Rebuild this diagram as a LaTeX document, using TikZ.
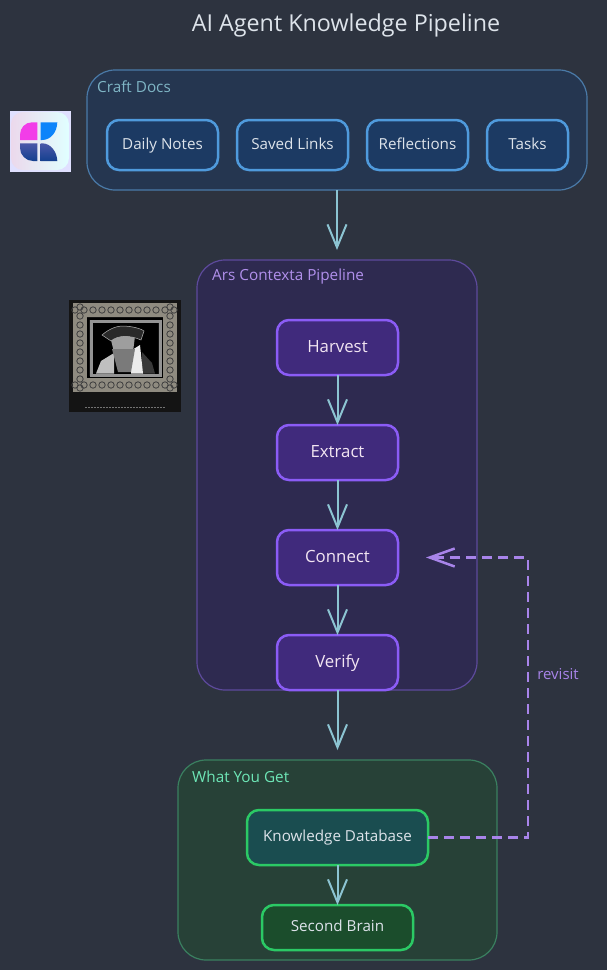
\documentclass[tikz,border=0pt]{standalone}
\usepackage{fontspec}
\setmainfont{Open Sans}
\usetikzlibrary{arrows.meta}

\definecolor{fond}{HTML}{2D333F}
\definecolor{titre}{HTML}{DDE3EA}
\definecolor{lien}{HTML}{8CC4D2}
\definecolor{retour}{HTML}{A884EA}
\definecolor{docbord}{HTML}{4F9ADC}
\definecolor{docfond}{HTML}{1C3A63}
\definecolor{etapebord}{HTML}{8B5CF6}
\definecolor{etapefond}{HTML}{402A7C}
\definecolor{vert}{HTML}{2BC965}
\definecolor{cadre}{HTML}{8F8B80}
\definecolor{rose}{HTML}{F23DE8}
\definecolor{bleu}{HTML}{0D84FA}
\definecolor{marine}{HTML}{14408F}
\definecolor{ardoise}{HTML}{4A57A8}

\tikzstyle{groupe} = [rectangle, draw, line width=1.2pt, rounded corners=28pt, inner sep=0pt, outer sep=0pt]
\tikzstyle{etiquette} = [anchor=west, inner sep=0pt, font=\fontsize{15.3}{18}\selectfont]
\tikzstyle{doc} = [rectangle, draw=docbord, fill=docfond, line width=2.5pt, rounded corners=12pt, inner sep=0pt, outer sep=0pt, minimum height=50pt, text=titre, text height=11pt, text depth=3pt, font=\fontsize{15.2}{18}\selectfont]
\tikzstyle{etape} = [rectangle, draw=etapebord, fill=etapefond, line width=2.5pt, rounded corners=12pt, inner sep=0pt, outer sep=0pt, minimum width=121pt, minimum height=55pt, text=violet!10!white, text height=13pt, text depth=4pt, font=\fontsize{16.8}{20}\selectfont]
\tikzstyle{sortie} = [rectangle, draw=vert, line width=2.5pt, rounded corners=12pt, inner sep=0pt, outer sep=0pt, text=titre, text height=11pt, text depth=3pt, font=\fontsize{15.2}{18}\selectfont]
\tikzstyle{fleche} = [draw=lien, line width=2pt, -{Straight Barb[length=23pt,width=19pt,line width=2pt]}]
\tikzstyle{revient} = [draw=retour, line width=2.5pt, dash pattern=on 10pt off 6pt, -{Straight Barb[length=25pt,width=18pt,line width=2.5pt]}]

\begin{document}
\begin{tikzpicture}[x=1pt, y=-1pt]

    \useasboundingbox (0,0) rectangle (607,970);
    \fill[fond] (0,0) rectangle (607,970);

    \node[text=titre, font=\fontsize{23.3}{28}\selectfont] (titre) at (346,25) {AI Agent Knowledge Pipeline};

    %-------------------------------------------------------------
    \node[groupe, draw={rgb,255:red,74;green,122;blue,168}, fill={rgb,255:red,37;green,54;blue,80}, minimum width=500pt, minimum height=120pt] (craft) at (337,130) {};
    \node[etiquette, text={rgb,255:red,127;green,181;blue,197}] (craftlabel) at (97,87) {Craft Docs};

    \node[doc, minimum width=111pt] (daily) at (162.5,145) {Daily Notes};
    \node[doc, minimum width=111pt] (saved) at (292.5,145) {Saved Links};
    \node[doc, minimum width=101pt] (reflections) at (417.5,145) {Reflections};
    \node[doc, minimum width=81pt] (tasks) at (527.5,145) {Tasks};

    %-------------------------------------------------------------
    \node[groupe, draw={rgb,255:red,93;green,74;blue,156}, fill={rgb,255:red,46;green,42;blue,80}, minimum width=280pt, minimum height=430pt] (ars) at (337,475) {};
    \node[etiquette, text=retour!90!white] (arslabel) at (212,277) {Ars Contexta Pipeline};

    \node[etape] (harvest) at (337.5,347.5) {Harvest};
    \node[etape] (extract) at (337.5,452.5) {Extract};
    \node[etape] (connect) at (337.5,557.5) {Connect};
    \node[etape] (verify) at (337.5,662.5) {Verify};

    %-------------------------------------------------------------
    \node[groupe, draw={rgb,255:red,58;green,128;blue,96}, fill={rgb,255:red,39;green,65;blue,55}, minimum width=319pt, minimum height=200pt] (get) at (337.5,860) {};
    \node[etiquette, text={rgb,255:red,110;green,231;blue,183}] (getlabel) at (192,777) {What You Get};

    \node[sortie, fill={rgb,255:red,26;green,77;blue,80}, minimum width=181pt, minimum height=55pt] (database) at (337.5,837.5) {Knowledge Database};
    \node[sortie, fill={rgb,255:red,27;green,77;blue,44}, minimum width=151pt, minimum height=45pt] (brain) at (337.5,927.5) {Second Brain};

    %-------------------------------------------------------------
    \draw[fleche, shorten >=10pt] (craft) -- (ars);
    \draw[fleche] (harvest) -- (extract);
    \draw[fleche] (extract) -- (connect);
    \draw[fleche] (connect) -- (verify);
    \draw[fleche, shorten >=10pt] (verify) -- (get);
    \draw[fleche] (database) -- (brain);

    \coordinate (coudebas) at (528,837.5);
    \coordinate (couhaut) at (528,557.5);
    \draw[revient, shorten >=28pt] (database.east) -- (coudebas) -- (couhaut) -- (connect.east);
    \node[text=retour, inner sep=0pt, font=\fontsize{15}{18}\selectfont] (revisit) at (558,674) {revisit};

    %-------------------------------------------------------------
    % logo craft
    \fill[blue!12!white] (10,111) rectangle (71,172);
    \shade[left color=violet!15!white, right color=cyan!12!white, rounded corners=12pt] (11,112) rectangle (69,170);
    \fill[rose] (37.3,122.3) -- (32,122.3) .. controls (25,122.3) and (20,128) .. (20,135) -- (20,140) -- (37.3,140) -- cycle;
    \fill[bleu] (40.7,122.3) -- (57.3,122.3) .. controls (57,132) and (51,140) .. (42,140) -- (40.7,140) -- cycle;
    \shade[top color=ardoise, bottom color=marine] (20,143.3) -- (37.3,143.3) -- (37.3,161) -- (33,161) .. controls (26,161) and (20,155) .. (20,148) -- cycle;
    \shade[top color=ardoise, bottom color=marine] (40.7,143.3) -- (42,143.3) .. controls (51,143.3) and (57,152) .. (57.3,161) -- (40.7,161) -- cycle;

    %-------------------------------------------------------------
    % portrait
    \fill[black!92!white] (69,300) rectangle (181,412);
    \draw[cadre, line width=14pt] (80,310) rectangle (170,385);
    \foreach \i in {0,9,...,99} {
        \draw[black!75, line width=0.8pt] (75+\i,310) circle (3.2pt);
        \draw[black!75, line width=0.8pt] (75+\i,385) circle (3.2pt);
    }
    \foreach \i in {0,9,...,81} {
        \draw[black!75, line width=0.8pt] (80,307+\i) circle (3.2pt);
        \draw[black!75, line width=0.8pt] (170,307+\i) circle (3.2pt);
    }
    \draw[black, line width=1.5pt] (88,319) rectangle (162,377);
    \draw[gray!85!white, line width=3pt] (91,321) rectangle (160,375);
    \fill[black] (93,323) rectangle (158,373.5);
    \fill[white!75!black] (96,373.5) -- (101,361) -- (114,353) -- (114,373.5) -- cycle;
    \fill[white!22!black] (142,373.5) -- (142,352) -- (152,363) -- (155,373.5) -- cycle;
    \fill[white!92!black] (132,350) -- (140,345) -- (143,373.5) -- (131,373.5) -- cycle;
    \fill[white!62!black] (110,336) -- (135,336) -- (133,352) -- (114,352) -- cycle;
    \fill[white!48!black] (112,349) -- (135,349) -- (131,372) -- (118,372) -- cycle;
    \fill[white!16!black, draw=white!70!black, line width=0.5pt] (102,335) .. controls (110,328) and (118,326) .. (122,326) .. controls (130,326) and (140,328) .. (144,331) -- (141,340) .. controls (130,335) and (118,335) .. (111,341) -- cycle;
    \draw[white!45!black, line width=0.8pt, dash pattern=on 2pt off 1pt] (85,407) -- (165,407);

\end{tikzpicture}
\end{document}
